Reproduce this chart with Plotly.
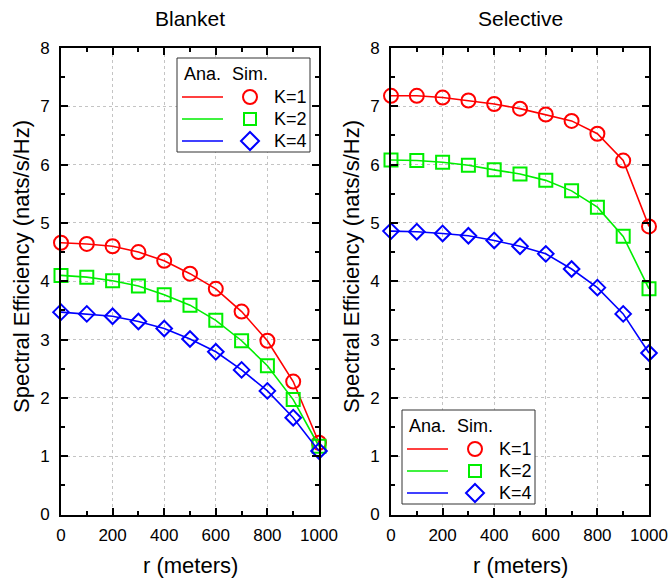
import plotly.graph_objects as go

# ---------------- data ----------------
r_meters = [0, 100, 200, 300, 400, 500, 600, 700, 800, 900, 1000]

blanket_k1 = [4.66, 4.64, 4.60, 4.50, 4.35, 4.13, 3.87, 3.48, 2.98, 2.28, 1.23]
blanket_k2 = [4.10, 4.07, 4.01, 3.92, 3.77, 3.59, 3.33, 2.98, 2.55, 1.97, 1.17]
blanket_k4 = [3.47, 3.44, 3.40, 3.31, 3.19, 3.01, 2.79, 2.48, 2.12, 1.66, 1.09]

selective_k1 = [7.18, 7.18, 7.15, 7.10, 7.04, 6.96, 6.86, 6.75, 6.53, 6.07, 4.94]
selective_k2 = [6.08, 6.07, 6.04, 5.99, 5.91, 5.84, 5.73, 5.55, 5.27, 4.77, 3.87]
selective_k4 = [4.86, 4.85, 4.82, 4.78, 4.70, 4.60, 4.47, 4.21, 3.89, 3.44, 2.77]

panel_titles = ["Blanket", "Selective"]
series_labels = ["K=1", "K=2", "K=4"]
x_ticks = [0, 200, 400, 600, 800, 1000]
y_ticks = [0, 1, 2, 3, 4, 5, 6, 7, 8]

# ---------------- style ----------------
W, H = 670, 585
FONT = "Arial, Liberation Sans, sans-serif"
colors = ["#ff0000", "#00ee00", "#0000ff"]
symbols = ["circle-open", "square-open", "diamond-open"]
msizes = [14, 13, 12]


def px(x):
    return x / W


def py(y):
    return 1 - y / H


fig = go.Figure()

panels = [
    ("x", "y", [blanket_k1, blanket_k2, blanket_k4]),
    ("x2", "y2", [selective_k1, selective_k2, selective_k4]),
]
for xa, ya, series in panels:
    for i, vals in enumerate(series):
        fig.add_trace(go.Scatter(
            x=r_meters, y=vals, xaxis=xa, yaxis=ya,
            mode="lines+markers", name=series_labels[i],
            line=dict(color=colors[i], width=1.6),
            marker=dict(symbol=symbols[i], size=msizes[i], color=colors[i],
                        line=dict(color=colors[i], width=2)),
            cliponaxis=False, showlegend=False,
        ))

# plot area in pixels
left_x = (61, 319)
right_x = (391, 649)
top_y, bot_y = 48, 514.5

axis_common = dict(
    showline=True, linewidth=2, linecolor="black", mirror="allticks",
    ticks="inside", ticklen=7, tickwidth=1.5, tickcolor="black",
    showgrid=True, gridcolor="#c4c4c4", griddash="dot", gridwidth=1,
    zeroline=False, tickfont=dict(family=FONT, size=17, color="black"),
)

xax = dict(axis_common, range=[0, 1000], tickvals=x_ticks,
           minor=dict(ticks="inside", ticklen=4, tickwidth=1.5, tickcolor="black",
                      dtick=100, showgrid=False),
           ticklabelstandoff=4)
yax = dict(axis_common, range=[0, 8], tickvals=y_ticks,
           minor=dict(ticks="inside", ticklen=4, tickwidth=1.5, tickcolor="black",
                      dtick=0.5, showgrid=False),
           ticklabelstandoff=6)

fig.update_layout(
    width=W, height=H,
    margin=dict(l=0, r=0, t=0, b=0, autoexpand=False),
    paper_bgcolor="white", plot_bgcolor="white",
    font=dict(family=FONT, color="black"),
    xaxis=dict(xax, domain=[px(left_x[0]), px(left_x[1])], anchor="y"),
    yaxis=dict(yax, domain=[py(bot_y), py(top_y)], anchor="x"),
    xaxis2=dict(xax, domain=[px(right_x[0]), px(right_x[1])], anchor="y2"),
    yaxis2=dict(yax, domain=[py(bot_y), py(top_y)], anchor="x2"),
    showlegend=False,
)

annotations = []
shapes = []
for k, (x0, x1) in enumerate([left_x, right_x]):
    cx = (x0 + x1) / 2
    annotations.append(dict(text=panel_titles[k], x=px(cx), y=py(18), xref="paper", yref="paper",
                            showarrow=False, font=dict(size=21, family=FONT), xanchor="center", yanchor="middle"))
    annotations.append(dict(text="r (meters)", x=px(cx), y=py(565), xref="paper", yref="paper",
                            showarrow=False, font=dict(size=22, family=FONT), xanchor="center", yanchor="middle"))
    annotations.append(dict(text="Spectral Efficiency (nats/s/Hz)", x=px(x0 - 39), y=py(267),
                            xref="paper", yref="paper", textangle=-90,
                            showarrow=False, font=dict(size=22, family=FONT), xanchor="center", yanchor="middle"))

# custom legends (Ana. line / Sim. marker)
legend_boxes = [(177, 58), (402, 410)]
for bx, by in legend_boxes:
    shapes.append(dict(type="rect", xref="paper", yref="paper",
                       x0=px(bx), x1=px(bx + 133), y0=py(by), y1=py(by + 94),
                       line=dict(color="#333333", width=1), fillcolor="white", layer="above"))
    annotations.append(dict(text="Ana.", x=px(bx + 5), y=py(by + 16), xref="paper", yref="paper",
                            showarrow=False, font=dict(size=18, family=FONT), xanchor="left", yanchor="middle"))
    annotations.append(dict(text="Sim.", x=px(bx + 53), y=py(by + 16), xref="paper", yref="paper",
                            showarrow=False, font=dict(size=18, family=FONT), xanchor="left", yanchor="middle"))
    row_dy = [39, 61, 83]
    for i in range(3):
        ry = by + row_dy[i]
        shapes.append(dict(type="line", xref="paper", yref="paper",
                           x0=px(bx + 5), x1=px(bx + 46), y0=py(ry), y1=py(ry),
                           line=dict(color=colors[i], width=1.6), layer="above"))
        mx = bx + 73
        if i == 0:
            shapes.append(dict(type="circle", xref="paper", yref="paper",
                               x0=px(mx - 7), x1=px(mx + 7), y0=py(ry - 7), y1=py(ry + 7),
                               line=dict(color=colors[i], width=2), layer="above"))
        elif i == 1:
            shapes.append(dict(type="rect", xref="paper", yref="paper",
                               x0=px(mx - 6), x1=px(mx + 6), y0=py(ry - 6), y1=py(ry + 6),
                               line=dict(color=colors[i], width=2), layer="above"))
        else:
            d = 9
            path = (f"M {px(mx)} {py(ry - d)} L {px(mx + d)} {py(ry)} "
                    f"L {px(mx)} {py(ry + d)} L {px(mx - d)} {py(ry)} Z")
            shapes.append(dict(type="path", xref="paper", yref="paper", path=path,
                               line=dict(color=colors[i], width=2), layer="above"))
        annotations.append(dict(text=series_labels[i], x=px(bx + 95), y=py(ry), xref="paper", yref="paper",
                                showarrow=False, font=dict(size=18, family=FONT), xanchor="left", yanchor="middle"))

fig.update_layout(annotations=annotations, shapes=shapes)
fig.write_html("out.html", config={"displayModeBar": False},
               post_script="document.body.style.margin='0';document.body.style.padding='0';document.body.style.overflow='hidden';")
